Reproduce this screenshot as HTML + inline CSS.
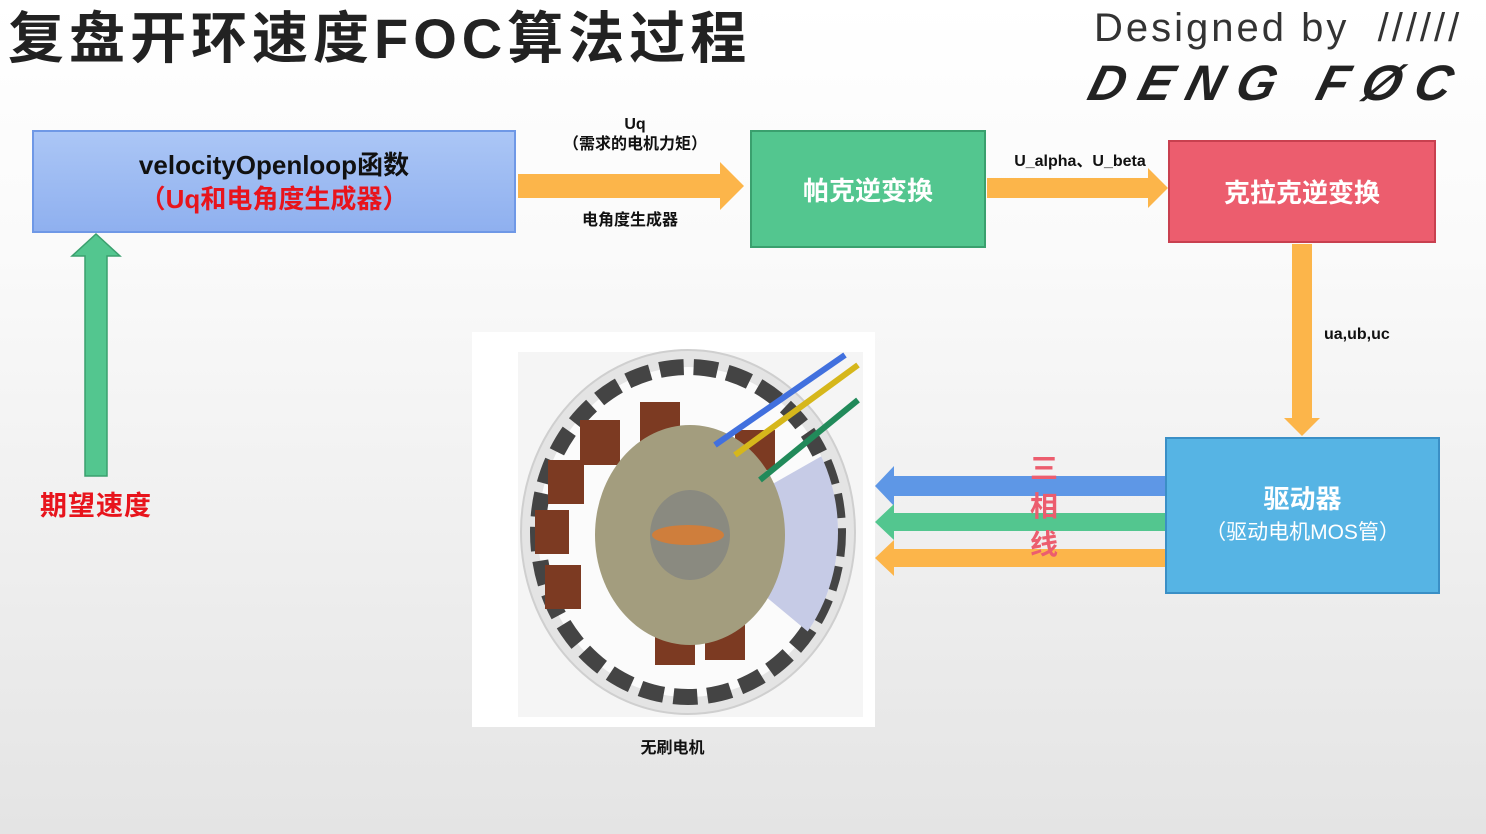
<!DOCTYPE html>
<html><head><meta charset="utf-8"><style>
body{margin:0}
#c{position:relative;width:1486px;height:834px;overflow:hidden;background:linear-gradient(#ffffff 0%,#fafafa 30%,#e4e4e4 100%);font-family:"Liberation Sans","Noto Sans CJK SC",sans-serif}
.a{position:absolute}
.box{position:absolute;box-sizing:border-box;display:flex;flex-direction:column;align-items:center;justify-content:center;color:#fff;font-weight:bold}
.t{position:absolute;font-size:16px;font-weight:bold;color:#111;text-align:center;white-space:nowrap}
</style></head><body><div id="c">
<div class="a" style="left:8px;top:4px;font-size:56px;font-weight:bold;color:#222;letter-spacing:5px;line-height:70px;white-space:nowrap">复盘开环速度FOC算法过程</div>
<div class="a" style="left:1094px;top:6px;font-size:40px;color:#333;letter-spacing:3px;white-space:nowrap">Designed by &nbsp;//////</div>
<div class="a" style="left:1090px;top:54px;font-size:50px;color:#222;font-weight:900;font-style:italic;letter-spacing:14px;transform:skewX(-15deg);white-space:nowrap">DENG FØC</div>

<div class="box" style="left:32px;top:130px;width:484px;height:103px;background:linear-gradient(#abc6f6,#8fb0ef);border:2px solid #6f98e6;color:#111;font-size:26px;line-height:34px">
<div>velocityOpenloop函数</div><div style="color:#e8141c">（Uq和电角度生成器）</div></div>

<div class="box" style="left:750px;top:130px;width:236px;height:118px;background:#53c68f;border:2px solid #3aa06e;font-size:26px">帕克逆变换</div>
<div class="box" style="left:1168px;top:140px;width:268px;height:103px;background:#ec5d6e;border:2px solid #c8404f;font-size:26px">克拉克逆变换</div>
<div class="box" style="left:1165px;top:437px;width:275px;height:157px;background:#56b4e4;border:2px solid #3a8fc6;font-size:26px;line-height:34px"><div>驱动器</div><div style="font-weight:normal;font-size:21px">（驱动电机MOS管）</div></div>

<svg class="a" style="left:0;top:0" width="1486" height="834">
<defs><clipPath id="cl"><ellipse cx="688" cy="532" rx="150" ry="165"/></clipPath></defs>
<polygon points="518,174 720,174 720,162 744,186 720,210 720,198 518,198" fill="#fcb54a"/>
<polygon points="987,178 1148,178 1148,168 1168,188 1148,208 1148,198 987,198" fill="#fcb54a"/>
<polygon points="1292,244 1312,244 1312,418 1320,418 1302,436 1284,418 1292,418" fill="#fcb54a"/>
<polygon points="85,476 107,476 107,256 120,256 96,234 72,256 85,256" fill="#53c68f" stroke="#3aa06e" stroke-width="1.5"/>
<polygon points="1165,476 894,476 894,466 875,486 894,506 894,496 1165,496" fill="#5e97e6"/>
<polygon points="1165,513 894,513 894,504 875,522 894,540 894,531 1165,531" fill="#53c68f"/>
<polygon points="1165,549 894,549 894,540 875,558 894,576 894,567 1165,567" fill="#fcb54a"/>
<rect x="472" y="332" width="403" height="395" fill="#fff"/>
<rect x="518" y="352" width="345" height="365" fill="#f5f5f5"/>
<ellipse cx="688" cy="532" rx="167" ry="182" fill="#e4e4e4" stroke="#cfcfcf" stroke-width="2"/>
<ellipse cx="688" cy="532" rx="150" ry="165" fill="#fbfbfb"/>
<ellipse cx="688" cy="532" rx="150" ry="165" fill="none" stroke="#444" stroke-width="16" stroke-dasharray="24 10"/>
<path d="M688,532 L850,440 A150 165 0 0 1 830,650 Z" fill="#c6cbe6" clip-path="url(#cl)"/>
<g fill="#7c3a22">
<rect x="640" y="402" width="40" height="45"/><rect x="580" y="420" width="40" height="45"/><rect x="548" y="460" width="36" height="44"/>
<rect x="535" y="510" width="34" height="44"/><rect x="545" y="565" width="36" height="44"/><rect x="655" y="615" width="40" height="50"/><rect x="705" y="610" width="40" height="50"/><rect x="735" y="430" width="40" height="40"/></g>
<ellipse cx="690" cy="535" rx="95" ry="110" fill="#a39d7e"/>
<ellipse cx="690" cy="535" rx="40" ry="45" fill="#8a8a80"/>
<ellipse cx="688" cy="535" rx="36" ry="10" fill="#e07a2a" opacity=".8"/>
<line x1="715" y1="445" x2="845" y2="355" stroke="#4170de" stroke-width="6"/>
<line x1="735" y1="455" x2="858" y2="365" stroke="#d6b71b" stroke-width="6"/>
<line x1="760" y1="480" x2="858" y2="400" stroke="#218a5a" stroke-width="6"/>
</svg>
<div class="t" style="left:540px;top:115px;width:190px;line-height:20px">Uq<br>（需求的电机力矩）</div>
<div class="t" style="left:535px;top:206px;width:190px">电角度生成器</div>
<div class="t" style="left:995px;top:147px;width:170px">U_alpha、U_beta</div>
<div class="t" style="left:1324px;top:326px">ua,ub,uc</div>
<div class="t" style="left:600px;top:734px;width:145px">无刷电机</div>
<div class="a" style="left:40px;top:484px;font-size:27px;font-weight:bold;color:#e8141c;letter-spacing:1px">期望速度</div>
<div class="a" style="left:1030px;top:450px;font-size:28px;font-weight:bold;line-height:38px;color:#ec5d6e;width:32px">三<br>相<br>线</div>
</div></body></html>
